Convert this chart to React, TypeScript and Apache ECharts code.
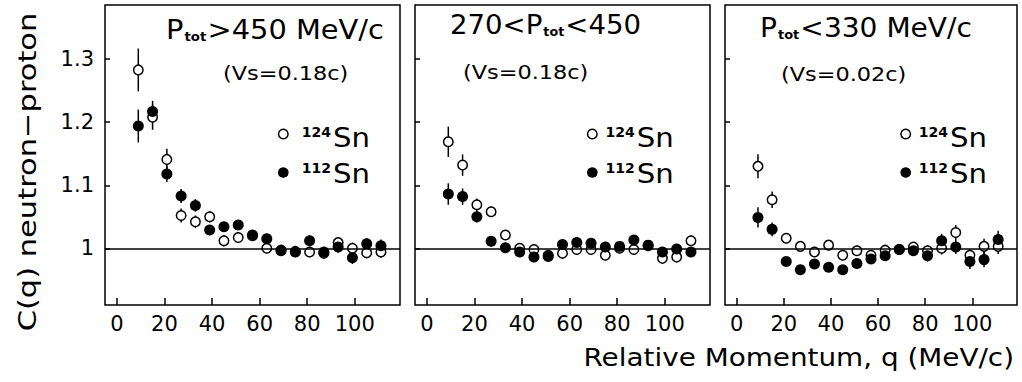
import React, { useEffect, useRef } from "react";
import * as echarts from "echarts";

const Q = [9, 15, 21, 27, 33, 39, 45, 51, 57, 63, 69, 75, 81, 87, 93, 99, 105, 111];
const X_TICKS = [0, 20, 40, 60, 80, 100];
const Y_TICKS = [1, 1.1, 1.2, 1.3];

const p1Open = [1.283, 1.208, 1.141, 1.052, 1.042, 1.05, 1.012, 1.017, 1.02, 1.0, 0.997, 0.995, 0.994, 0.992, 1.009, 1.0, 0.993, 0.994];
const p1OpenErr = [0.034, 0.02, 0.017, 0.011, 0.01, 0.009, 0.009, 0.008, 0.008, 0.008, 0.008, 0.008, 0.008, 0.008, 0.009, 0.009, 0.009, 0.009];
const p1Fill = [1.194, 1.217, 1.118, 1.083, 1.068, 1.029, 1.034, 1.037, 1.021, 1.015, 0.996, 0.994, 1.012, 0.994, 1.002, 0.985, 1.007, 1.004];
const p1FillErr = [0.026, 0.017, 0.013, 0.011, 0.01, 0.008, 0.008, 0.008, 0.008, 0.008, 0.008, 0.008, 0.009, 0.008, 0.009, 0.01, 0.009, 0.01];

const p2Open = [1.169, 1.132, 1.069, 1.058, 1.021, 1.0, 0.998, 0.989, 0.992, 0.998, 0.998, 0.989, 1.0, 0.998, 1.004, 0.984, 0.986, 1.012];
const p2OpenErr = [0.024, 0.017, 0.01, 0.008, 0.008, 0.008, 0.008, 0.008, 0.008, 0.008, 0.008, 0.008, 0.008, 0.008, 0.008, 0.008, 0.008, 0.008];
const p2Fill = [1.086, 1.082, 1.05, 1.011, 1.001, 0.994, 0.986, 0.987, 1.006, 1.009, 1.008, 1.002, 1.003, 1.013, 1.005, 0.994, 0.999, 0.994];
const p2FillErr = [0.017, 0.013, 0.009, 0.008, 0.008, 0.008, 0.008, 0.008, 0.008, 0.008, 0.008, 0.008, 0.008, 0.008, 0.008, 0.008, 0.008, 0.008];

const p3Open = [1.13, 1.077, 1.016, 1.003, 0.994, 1.005, 0.989, 0.996, 0.989, 0.997, 0.998, 1.002, 0.996, 1.0, 1.025, 0.989, 1.003, 1.003];
const p3OpenErr = [0.019, 0.013, 0.008, 0.008, 0.008, 0.008, 0.008, 0.008, 0.008, 0.008, 0.008, 0.008, 0.009, 0.01, 0.012, 0.01, 0.012, 0.012];
const p3Fill = [1.049, 1.03, 0.979, 0.966, 0.975, 0.97, 0.966, 0.976, 0.983, 0.988, 0.998, 0.996, 0.988, 1.012, 1.002, 0.979, 0.982, 1.014];
const p3FillErr = [0.016, 0.011, 0.007, 0.007, 0.007, 0.007, 0.007, 0.007, 0.007, 0.007, 0.007, 0.007, 0.009, 0.011, 0.011, 0.012, 0.012, 0.014];

const FONT = "DejaVu Sans";

const PANELS = [
  { open: p1Open, openErr: p1OpenErr, fill: p1Fill, fillErr: p1FillErr },
  { open: p2Open, openErr: p2OpenErr, fill: p2Fill, fillErr: p2FillErr },
  { open: p3Open, openErr: p3OpenErr, fill: p3Fill, fillErr: p3FillErr },
];

const GRIDS = [
  { left: 105, top: 5, width: 295, height: 300 },
  { left: 415, top: 5, width: 295, height: 300 },
  { left: 725, top: 5, width: 292, height: 300 },
];

function errSeries(gi: number, vals: number[], errs: number[], withLine: boolean) {
  const s: any = {
    type: "custom",
    xAxisIndex: gi,
    yAxisIndex: gi,
    data: Q.map((q, i) => [q, vals[i], errs[i]]),
    encode: { x: 0, y: 1 },
    renderItem: (_p: any, api: any) => {
      const x = api.value(0);
      const y = api.value(1);
      const e = api.value(2);
      const a = api.coord([x, y + e]);
      const b = api.coord([x, y - e]);
      return {
        type: "line",
        shape: { x1: a[0], y1: a[1], x2: b[0], y2: b[1] },
        style: { stroke: "#000", lineWidth: 1.5 },
      };
    },
    z: 1,
  };
  if (withLine) {
    s.markLine = {
      silent: true,
      symbol: ["none", "none"],
      label: { show: false },
      lineStyle: { color: "#000", width: 1.5, type: "solid" },
      data: [{ yAxis: 1 }],
    };
  }
  return s;
}

export default function App() {
  const ref = useRef<HTMLDivElement>(null);
  useEffect(() => {
    if (!ref.current) return;
    const chart = echarts.init(ref.current, null, { renderer: "svg" });

    const xAxis = GRIDS.map((_, gi) => ({
      type: "value",
      gridIndex: gi,
      min: -5,
      max: 119,
      axisLine: { show: false, onZero: false },
      splitLine: { show: false },
      axisTick: { show: true, inside: true, length: 7, customValues: X_TICKS, lineStyle: { color: "#000", width: 1.5 } },
      axisLabel: { show: true, customValues: X_TICKS, margin: 8, fontSize: 21, color: "#000", fontFamily: FONT },
    }));
    const yAxis = GRIDS.map((_, gi) => ({
      type: "value",
      gridIndex: gi,
      min: 0.91,
      max: 1.386,
      axisLine: { show: false, onZero: false },
      splitLine: { show: false },
      axisTick: { show: true, inside: true, length: 5, customValues: Y_TICKS, lineStyle: { color: "#000", width: 1.5 } },
      axisLabel: {
        show: gi === 0,
        customValues: Y_TICKS,
        margin: 11,
        fontSize: 21,
        color: "#000",
        fontFamily: FONT,
        formatter: (v: number) => (Math.abs(v - 1) < 1e-9 ? "1" : v.toFixed(1)),
      },
    }));

    const series: any[] = [];
    PANELS.forEach((p, gi) => {
      series.push(errSeries(gi, p.open, p.openErr, true));
      series.push(errSeries(gi, p.fill, p.fillErr, false));
      series.push({
        type: "scatter",
        xAxisIndex: gi,
        yAxisIndex: gi,
        data: Q.map((q, i) => [q, p.open[i]]),
        symbol: "circle",
        symbolSize: 9.5,
        itemStyle: { color: "#fff", borderColor: "#000", borderWidth: 1.5, opacity: 1 },
        z: 3,
      });
      series.push({
        type: "scatter",
        xAxisIndex: gi,
        yAxisIndex: gi,
        data: Q.map((q, i) => [q, p.fill[i]]),
        symbol: "circle",
        symbolSize: 11,
        itemStyle: { color: "#000", opacity: 1 },
        z: 4,
      });
    });

    const mainRich = {
      m: { fontSize: 26, fontFamily: FONT, color: "#000" },
      s: { fontSize: 12, fontWeight: "bold", fontFamily: FONT, color: "#000", verticalAlign: "bottom", padding: [0, 1, 0, 1] },
    };
    const titleText = (x: number, y: number, text: string, sx: number) => ({
      type: "text",
      x,
      y,
      scaleX: sx,
      z: 10,
      style: { text, rich: mainRich, fill: "#000", textAlign: "left", textVerticalAlign: "middle", font: `26px "${FONT}"` },
    });
    const plainText = (x: number, y: number, text: string, size: number, align = "left", sx = 1, weight = "normal") => ({
      type: "text",
      x,
      y,
      scaleX: sx,
      z: 10,
      style: { text, fill: "#000", font: `${weight} ${size}px "${FONT}"`, textAlign: align, textVerticalAlign: "middle" },
    });

    const legend = (cx: number, snX: number) => [
      { type: "circle", z: 10, shape: { cx, cy: 134, r: 4.8 }, style: { fill: "#fff", stroke: "#000", lineWidth: 1.5 } },
      { type: "circle", z: 10, shape: { cx, cy: 172.5, r: 5.3 }, style: { fill: "#000" } },
      plainText(snX - 2, 132, "124", 14, "right", 1, "bold"),
      plainText(snX, 138, "Sn", 27, "left", 1.08),
      plainText(snX - 2, 168, "112", 14, "right", 1, "bold"),
      plainText(snX, 174, "Sn", 27, "left", 1.08),
    ];

    const graphic: any[] = [
      titleText(166, 30, "{m|P}{s|tot}{m|>450 MeV/c}", 1.11),
      plainText(223, 72.5, "(Vs=0.18c)", 20, "left", 1.12),
      titleText(450, 25, "{m|270<P}{s|tot}{m|<450}", 1.06),
      plainText(463, 72, "(Vs=0.18c)", 20, "left", 1.12),
      titleText(760, 28, "{m|P}{s|tot}{m|<330 MeV/c}", 1.08),
      plainText(781, 74, "(Vs=0.02c)", 20, "left", 1.12),
      ...legend(283.3, 333),
      ...legend(592.3, 636.7),
      ...legend(905.7, 950),
      {
        type: "text",
        x: 27,
        y: 172,
        rotation: Math.PI / 2,
        scaleX: 1.22,
        z: 10,
        style: { text: "C(q) neutron\u2212proton", fill: "#000", font: `25px "${FONT}"`, textAlign: "center", textVerticalAlign: "middle" },
      },
      plainText(1014, 358, "Relative Momentum, q (MeV/c)", 24, "right", 1.16),
    ];

    chart.setOption({
      animation: false,
      backgroundColor: "#fff",
      grid: GRIDS.map((g) => ({ ...g, show: true, borderColor: "#000", borderWidth: 1.5, backgroundColor: "transparent", containLabel: false })),
      xAxis,
      yAxis,
      series,
      graphic,
    });
    return () => chart.dispose();
  }, []);
  return <div ref={ref} style={{ position: "fixed", left: 0, top: 0, width: 1022, height: 382, background: "#fff" }} />;
}
